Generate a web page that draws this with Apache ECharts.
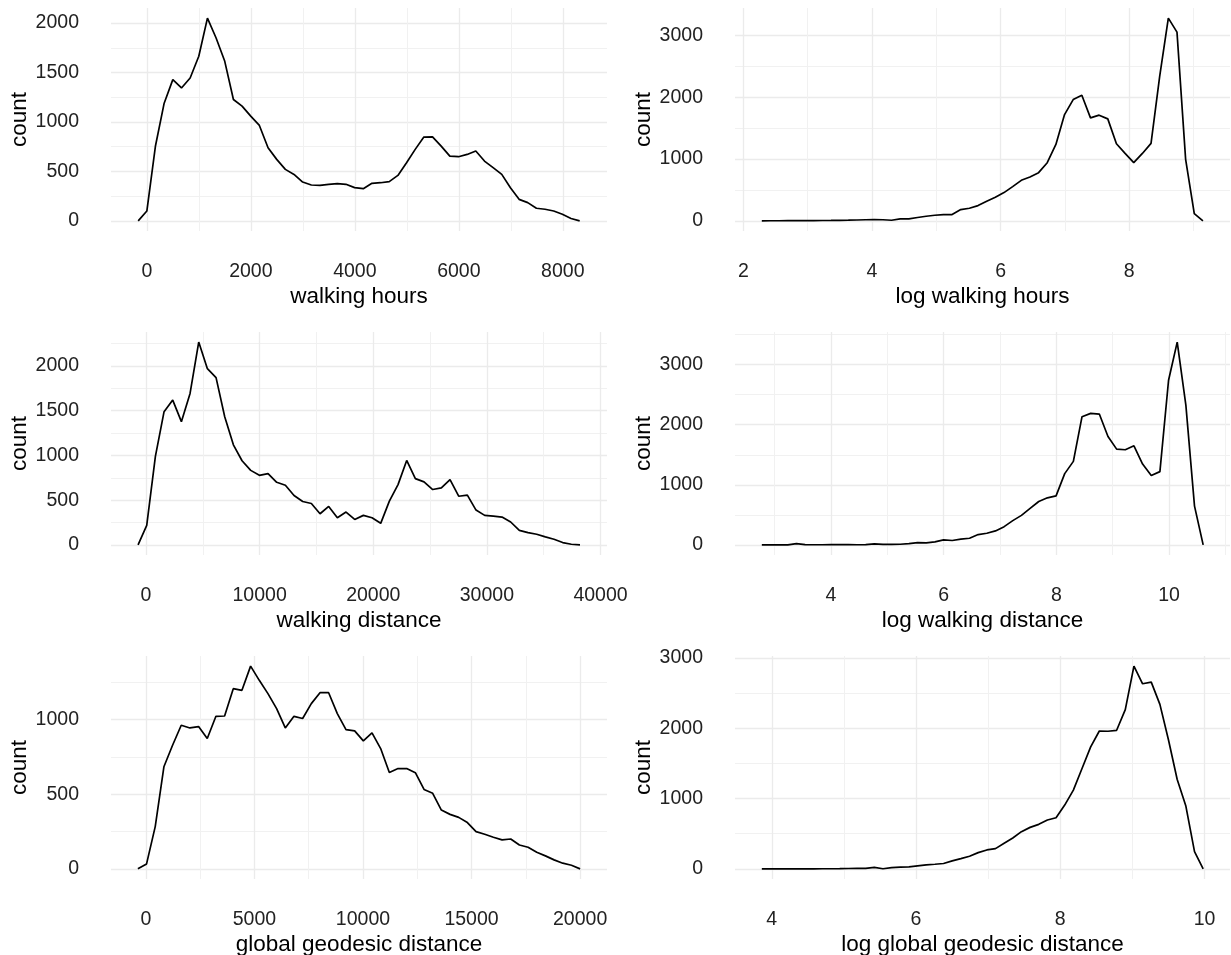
<!DOCTYPE html>
<html>
<head>
<meta charset="utf-8">
<title>walking / distance distributions</title>
<script src="https://cdn.jsdelivr.net/npm/echarts@6/dist/echarts.min.js"></script>
<style>
html, body { margin: 0; padding: 0; background: #fff; }
#main { width: 1231px; height: 955px; }
</style>
</head>
<body>
<div id="main"></div>
<script>
// x axis titles, panels in reading order (left->right, top->bottom)
var xNames = ['walking hours', 'log walking hours', 'walking distance',
              'log walking distance', 'global geodesic distance', 'log global geodesic distance'];

// freqpoly bins: first centre and bin width (50 bins + zero padding at both ends)
var binStart = [-167, 2.286, -698, 2.775, -365, 3.862];
var binWidth = [166.5, 0.13451, 762.6, 0.15355, 399.3, 0.12];

// counts per bin
var walkingHours = [0, 100, 760, 1190, 1428, 1344, 1445, 1664, 2050, 1849, 1613, 1227, 1160, 1059, 965, 740,
  622, 521, 470, 393, 363, 360, 370, 376, 370, 336, 326, 380, 386, 397, 460, 588, 723, 847, 850, 756,
  655, 649, 672, 706, 605, 538, 470, 336, 218, 185, 128, 118, 100, 67, 24, 0];
var logWalkingHours = [0, 2, 2, 3, 3, 4, 5, 6, 7, 9, 11, 14, 18, 22, 18, 10, 32, 32, 54, 75, 91, 102, 102,
  183, 204, 247, 317, 382, 457, 554, 656, 710, 780, 941, 1237, 1720, 1962, 2032, 1667, 1710, 1650, 1247,
  1091, 941, 1091, 1253, 2339, 3280, 3054, 995, 118, 0];
var walkingDistance = [0, 218, 989, 1489, 1619, 1378, 1693, 2267, 1970, 1870, 1433, 1119, 941, 833, 778, 796,
  700, 667, 552, 485, 463, 348, 430, 304, 367, 285, 330, 304, 241, 489, 674, 944, 741, 704, 619, 637,
  730, 544, 556, 389, 330, 322, 311, 256, 163, 137, 119, 89, 63, 26, 7, 0];
var logWalkingDistance = [0, 0, 0, 0, 20, 3, 2, 2, 3, 3, 3, 2, 4, 15, 8, 8, 10, 20, 38, 33, 50, 83, 72, 94,
  110, 171, 193, 232, 303, 403, 491, 607, 722, 783, 816, 1186, 1390, 2134, 2189, 2178, 1803, 1594, 1583,
  1649, 1346, 1153, 1219, 2741, 3375, 2327, 645, 0];
var geodesic = [0, 33, 283, 684, 828, 962, 944, 953, 873, 1022, 1024, 1207, 1196, 1358, 1263, 1174, 1073,
  944, 1022, 1007, 1107, 1180, 1180, 1040, 933, 924, 857, 911, 806, 646, 672, 672, 644, 532, 506, 394,
  365, 345, 310, 249, 232, 212, 194, 200, 160, 145, 111, 87, 60, 38, 24, 0];
var logGeodesic = [0, 0, 1, 1, 1, 2, 1, 2, 2, 3, 5, 7, 8, 20, 2, 19, 24, 28, 43, 57, 66, 76, 113, 146, 180,
  231, 269, 288, 364, 439, 529, 590, 633, 694, 727, 907, 1120, 1427, 1734, 1960, 1956, 1970, 2263, 2882,
  2631, 2655, 2338, 1828, 1271, 893, 246, 0];

var counts = [walkingHours, logWalkingHours, walkingDistance, logWalkingDistance, geodesic, logGeodesic];

// axis limits and tick steps
var xMin = [-690, 1.869, -3080, 2.299, -1603, 3.49];
var xMax = [8850, 9.567, 40570, 11.082, 21238, 10.354];
var xStep = [2000, 2, 10000, 2, 5000, 2];
var yMin = [-102, -164, -113, -169, -68, -144];
var yMax = [2152, 3444, 2380, 3544, 1426, 3026];
var yStep = [500, 1000, 500, 1000, 500, 1000];

var FONT = '"Liberation Sans", Arial, Helvetica, sans-serif';

var myChart = echarts.init(document.getElementById('main'));

var grids = [], xAxes = [], yAxes = [], series = [];
var lefts = [111, 735], widths = [496, 495], tops = [8, 332, 656];

function plain(v) { return String(v); }

for (var p = 0; p < 6; p++) {
  var row = Math.floor(p / 2), col = p % 2;
  grids.push({
    left: lefts[col], width: widths[col], top: tops[row], height: 223,
    containLabel: false, outerBoundsMode: 'none'
  });

  var gridLines = {
    splitLine: { show: true, showMinLine: false, showMaxLine: false,
                 lineStyle: { color: '#EBEBEB', width: 1.3 } },
    minorTick: { show: false, splitNumber: 2 },
    minorSplitLine: { show: true, lineStyle: { color: '#F1F1F1', width: 1 } }
  };

  xAxes.push(Object.assign({
    gridIndex: p, type: 'value',
    min: xMin[p], max: xMax[p], minInterval: xStep[p], maxInterval: xStep[p],
    name: xNames[p], nameLocation: 'middle', nameGap: 54,
    nameTextStyle: { fontSize: 22.5, color: '#000', fontFamily: FONT },
    axisLine: { show: false, onZero: false },
    axisTick: { show: false },
    axisLabel: { margin: 31, fontSize: 19.5, color: '#222', fontFamily: FONT,
                 showMinLabel: false, showMaxLabel: false, formatter: plain }
  }, gridLines));

  yAxes.push(Object.assign({
    gridIndex: p, type: 'value',
    min: yMin[p], max: yMax[p], minInterval: yStep[p], maxInterval: yStep[p],
    name: 'count', nameLocation: 'middle', nameGap: 78,
    nameTextStyle: { fontSize: 22.5, color: '#000', fontFamily: FONT },
    axisLine: { show: false, onZero: false },
    axisTick: { show: false },
    axisLabel: { margin: 32, fontSize: 19.5, color: '#222', fontFamily: FONT,
                 showMinLabel: false, showMaxLabel: false, formatter: plain }
  }, gridLines));

  var pts = [];
  for (var i = 0; i < counts[p].length; i++) {
    pts.push([binStart[p] + i * binWidth[p], counts[p][i]]);
  }
  series.push({
    type: 'line', xAxisIndex: p, yAxisIndex: p,
    data: pts, symbol: 'none', silent: true,
    lineStyle: { color: '#000', width: 1.7 }
  });
}

myChart.setOption({
  animation: false,
  backgroundColor: '#fff',
  textStyle: { fontFamily: FONT },
  grid: grids,
  xAxis: xAxes,
  yAxis: yAxes,
  series: series
});
</script>
</body>
</html>
